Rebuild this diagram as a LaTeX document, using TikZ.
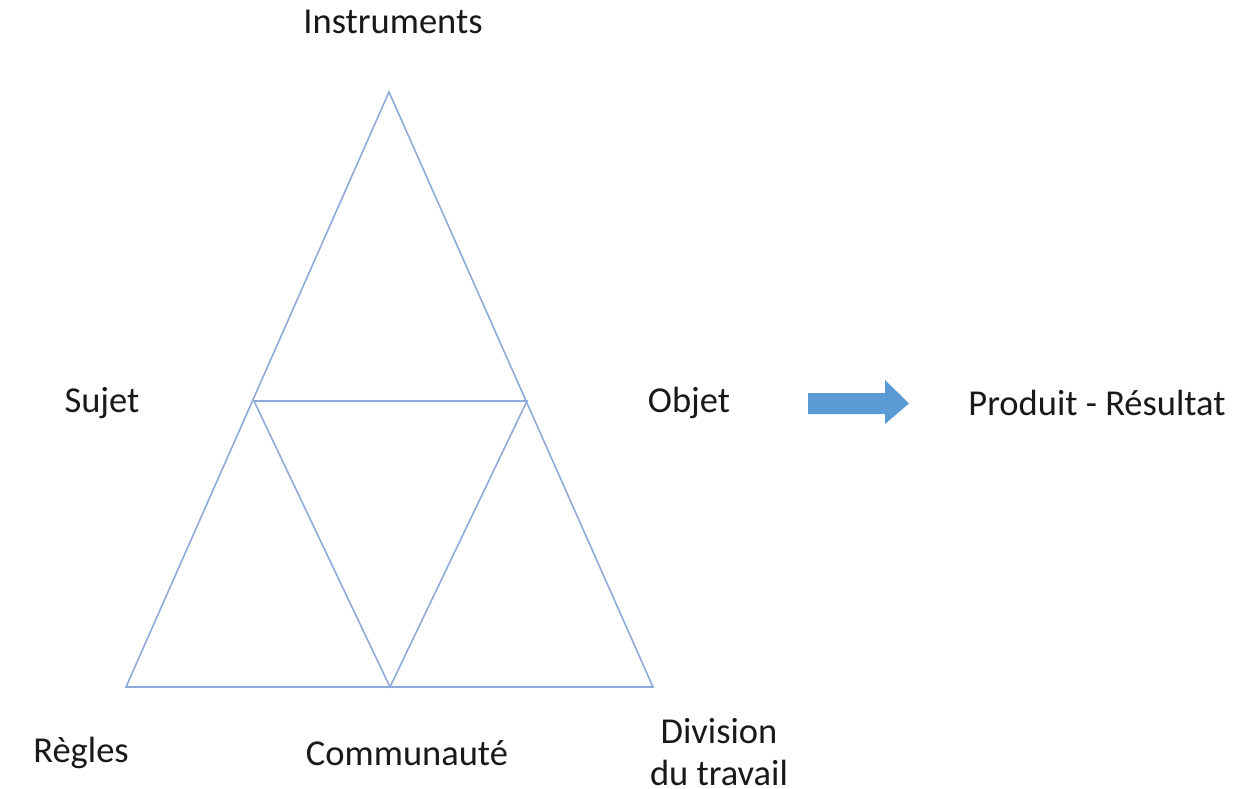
\documentclass[tikz,border=0pt]{standalone}
\usepackage{fontspec}
\setmainfont{Carlito}
\definecolor{triline}{HTML}{8EAADB}
\definecolor{arrowblue}{HTML}{5B9BD5}
\begin{document}
\begin{tikzpicture}[x=1pt,y=-1pt,
  lab/.style={font=\fontsize{36.5}{42}\selectfont, text=black!90, inner sep=0pt, align=center},
  edge/.style={draw=triline, line width=1.6pt}]
\useasboundingbox (0,0) rectangle (1245,789);
\coordinate (A) at (389,92);
\coordinate (B) at (126,687);
\coordinate (C) at (653,687);
\coordinate (L) at (254,401);
\coordinate (R) at (527,401);
\coordinate (M) at (390,687);
\draw[edge] (A) -- (B) -- (C) -- cycle;
\draw[edge] (L) -- (R) -- (M) -- cycle;
\node[lab] (instr) at (393,22) {Instruments};
\node[lab] (sujet) at (102,403) {Sujet};
\node[lab] (objet) at (689,403) {Objet};
\node[lab] (prod) at (1097,403) {Produit - Résultat};
\node[lab] (regles) at (81,753) {Règles};
\node[lab] (comm) at (407,753) {Communauté};
\node[lab] (div) at (719,752) {Division\\du travail};
\fill[arrowblue] (808,393) -- (885,393) -- (885,380) -- (909,403.5) -- (885,424) -- (885,414) -- (808,414) -- cycle;
\end{tikzpicture}
\end{document}
